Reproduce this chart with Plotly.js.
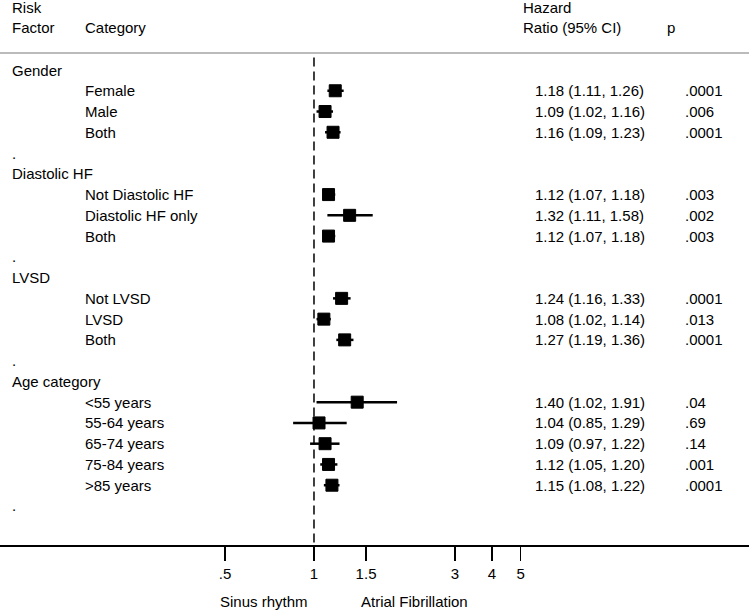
<!DOCTYPE html>
<html>
<head>
<meta charset="utf-8">
<script src="https://cdn.plot.ly/plotly-3.0.1.min.js"></script>
<style>
  html, body { margin: 0; padding: 0; background: #fff; }
  #chart { width: 749px; height: 610px; }
</style>
</head>
<body>
<div id="chart"></div>
<script>
// forest plot data
const groupNames = ["Gender", "Diastolic HF", "LVSD", "Age category"];
const groupCategories = [
    ["Female", "Male", "Both"],
    ["Not Diastolic HF", "Diastolic HF only", "Both"],
    ["Not LVSD", "LVSD", "Both"],
    ["<55 years", "55-64 years", "65-74 years", "75-84 years", ">85 years"]
];
const hazard = [1.18, 1.09, 1.16, 1.12, 1.32, 1.12, 1.24, 1.08, 1.27, 1.40, 1.04, 1.09, 1.12, 1.15];
const ciLow  = [1.11, 1.02, 1.09, 1.07, 1.11, 1.07, 1.16, 1.02, 1.19, 1.02, 0.85, 0.97, 1.05, 1.08];
const ciHigh = [1.26, 1.16, 1.23, 1.18, 1.58, 1.18, 1.33, 1.14, 1.36, 1.91, 1.29, 1.22, 1.20, 1.22];
const pValues = [".0001", ".006", ".0001", ".003", ".002", ".003", ".0001", ".013", ".0001", ".04", ".69", ".14", ".001", ".0001"];
const tickVals = [0.5, 1, 1.5, 3, 4, 5];
const tickText = [".5", "1", "1.5", "3", "4", "5"];

const FONT = "Liberation Sans, Arial, Helvetica, sans-serif";
const W = 749;

// build row positions: group header, its categories, then a "." spacer row
let rowY = [];
let annotations = [];
let row = 0, k = 0;
const txt = (text, px, y, yref) => ({
    text: text, x: (px - 2) / W, xref: "paper", y: y, yref: yref || "y",
    xanchor: "left", yanchor: "middle", showarrow: false,
    font: { family: FONT, size: 15, color: "#000" }
});

groupNames.forEach((g, gi) => {
    annotations.push(txt(g, 12, row));
    row++;
    groupCategories[gi].forEach((c) => {
        annotations.push(txt(c, 85, row));
        const hrLabel = hazard[k].toFixed(2) + " (" + ciLow[k].toFixed(2) + ", " + ciHigh[k].toFixed(2) + ")";
        annotations.push(txt(hrLabel, 535, row));
        annotations.push(txt(pValues[k], 685, row));
        rowY.push(row);
        row++;
        k++;
    });
    annotations.push(txt(".", 12, row));
    row++;
});

// header
annotations.push(txt("Risk", 12, -3.0));
annotations.push(txt("Factor", 12, -2.03));
annotations.push(txt("Category", 85, -2.03));
annotations.push(txt("Hazard", 523, -3.0));
annotations.push(txt("Ratio (95% CI)", 523, -2.03));
annotations.push(txt("p", 667, -2.03));

// bottom labels
const bottomLabel = (text, px, anchor) => ({
    text: text, x: px / W, xref: "paper", y: -0.103, yref: "paper",
    xanchor: anchor, yanchor: "middle", showarrow: false,
    font: { family: FONT, size: 15, color: "#000" }
});
annotations.push(bottomLabel("Sinus rhythm", 310, "right"));
annotations.push(bottomLabel("Atrial Fibrillation", 359, "left"));

const trace = {
    type: "scatter",
    mode: "markers",
    x: hazard,
    y: rowY,
    marker: { symbol: "square", size: 12, color: "#000", line: { color: "#000", width: 1 } },
    error_x: {
        type: "data",
        symmetric: false,
        array: hazard.map((h, i) => ciHigh[i] - h),
        arrayminus: hazard.map((h, i) => h - ciLow[i]),
        color: "#000",
        thickness: 2.5,
        width: 0
    },
    hoverinfo: "x",
    showlegend: false,
    cliponaxis: false
};

const layout = {
    width: 749,
    height: 610,
    margin: { l: 0, r: 0, t: 0, b: 65 },
    paper_bgcolor: "#fff",
    plot_bgcolor: "#fff",
    font: { family: FONT, size: 15, color: "#000" },
    xaxis: {
        type: "log",
        range: [-1.0622, 1.4716],
        tickvals: tickVals,
        ticktext: tickText,
        ticks: "outside",
        ticklen: 14,
        tickwidth: 1.5,
        tickcolor: "#000",
        showline: true,
        linecolor: "#000",
        linewidth: 2,
        showgrid: false,
        zeroline: false,
        tickfont: { family: FONT, size: 15, color: "#000" }
    },
    yaxis: {
        range: [22.88, -3.372],
        showgrid: false,
        zeroline: false,
        showticklabels: false,
        ticks: "",
        showline: false
    },
    shapes: [
        { type: "line", xref: "paper", x0: 0, x1: 1, yref: "y", y0: -0.82, y1: -0.82,
          line: { color: "#bbb", width: 2 } },
        { type: "line", xref: "x", x0: 1, x1: 1, yref: "y", y0: -0.6, y1: 22.88,
          line: { color: "#000", width: 1.5, dash: "9px,5px" } }
    ],
    annotations: annotations
};

Plotly.newPlot("chart", [trace], layout, { displayModeBar: false, staticPlot: true });
</script>
</body>
</html>
